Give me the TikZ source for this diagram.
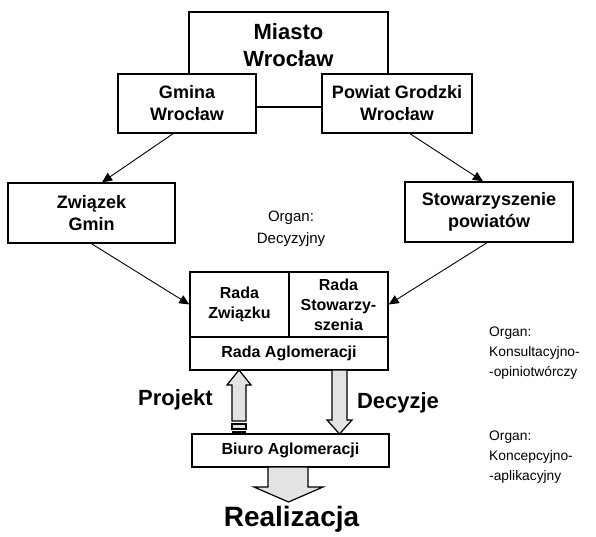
\documentclass[tikz,border=0pt]{standalone}
\usepackage{fontspec}
\setmainfont{Liberation Sans}
\usetikzlibrary{arrows.meta}
\begin{document}
\begin{tikzpicture}[x=1pt,y=-1pt,
  box/.style={draw, line width=1.4pt, fill=white, inner sep=0pt, align=center,
    font=\bfseries\fontsize{18}{22}\selectfont},
  cbox/.style={box, font=\bfseries\fontsize{16}{20}\selectfont},
  conn/.style={line width=0.9pt, -{Triangle[length=10pt,width=9pt]}},
  garrow/.style={draw, line width=1.2pt, fill=gray!22},
  bigtext/.style={font=\bfseries\fontsize{22}{27}\selectfont, align=center},
  note/.style={align=left, font=\fontsize{13.8}{20}\selectfont}]
\useasboundingbox (0,0) rectangle (596,536);

% top boxes
\node[box, minimum width=199pt, minimum height=95pt] (miasto) at (288.5,59.5) {};
\node[bigtext] (miastot) at (288.5,45) {Miasto\\Wrocław};
\node[box, minimum width=138pt, minimum height=59pt] (gmina) at (187,103.5) {Gmina\\Wrocław};
\node[box, minimum width=150pt, minimum height=59pt] (powiat) at (397,103.5) {Powiat Grodzki\\Wrocław};

% middle boxes
\node[box, minimum width=167pt, minimum height=60pt] (zwiazek) at (91.5,213) {Związek\\Gmin};
\node[box, minimum width=168pt, minimum height=60pt] (stow) at (489,212) {Stowarzyszenie\\powiatów};

% central box
\node[cbox, minimum width=99pt, minimum height=65pt] (radaz) at (239.5,304.5) {Rada\\Związku};
\node[cbox, minimum width=99pt, minimum height=65pt] (radas) at (338.5,304.5) {Rada\\Stowarzy-\\szenia};
\node[cbox, minimum width=198pt, minimum height=33pt] (radaa) at (289,353.5) {Rada Aglomeracji};

% bottom box
\node[cbox, minimum width=197pt, minimum height=33pt] (biuro) at (290.5,450.5) {Biuro Aglomeracji};

% connectors
\draw[conn] ([xshift=-14pt]gmina.south) -- ([xshift=10.5pt]zwiazek.north);
\draw[conn] ([xshift=13pt]powiat.south) -- ([xshift=-6pt]stow.north);
\draw[conn] (zwiazek.south) -- (radaz.west);
\draw[conn] ([xshift=-2pt]stow.south) -- (radas.east);

% block arrows
\draw[garrow] (239,370) -- (251,385) -- (246,385) -- (246,421) -- (232,421) -- (232,385) -- (227,385) -- cycle;
\draw[garrow] (232,424) rectangle (246,429);
\draw[line width=1.2pt] (232,432) -- (246,432);
\draw[garrow] (332,370) -- (347,370) -- (347,420) -- (352,420) -- (339.5,434) -- (327,420) -- (332,420) -- cycle;
\draw[garrow] (268,467) -- (308,467) -- (308,487) -- (323,487) -- (288.5,502) -- (254,487) -- (268,487) -- cycle;

% labels
\node[bigtext] (projekt) at (175.5,400) {Projekt};
\node[bigtext] (decyzje) at (398,403) {Decyzje};
\node[font=\bfseries\fontsize{28}{32}\selectfont] (realizacja) at (291.5,519) {Realizacja};
\node[align=center, font=\fontsize{15}{22}\selectfont] (orgdec) at (291,229) {Organ:\\Decyzyjny};
\node[note, anchor=west, inner sep=0pt] (orgkons) at (489,353) {Organ:\\Konsultacyjno-\\-opiniotwórczy};
\node[note, anchor=west, inner sep=0pt] (orgkonc) at (489,457) {Organ:\\Koncepcyjno-\\-aplikacyjny};
\end{tikzpicture}
\end{document}
